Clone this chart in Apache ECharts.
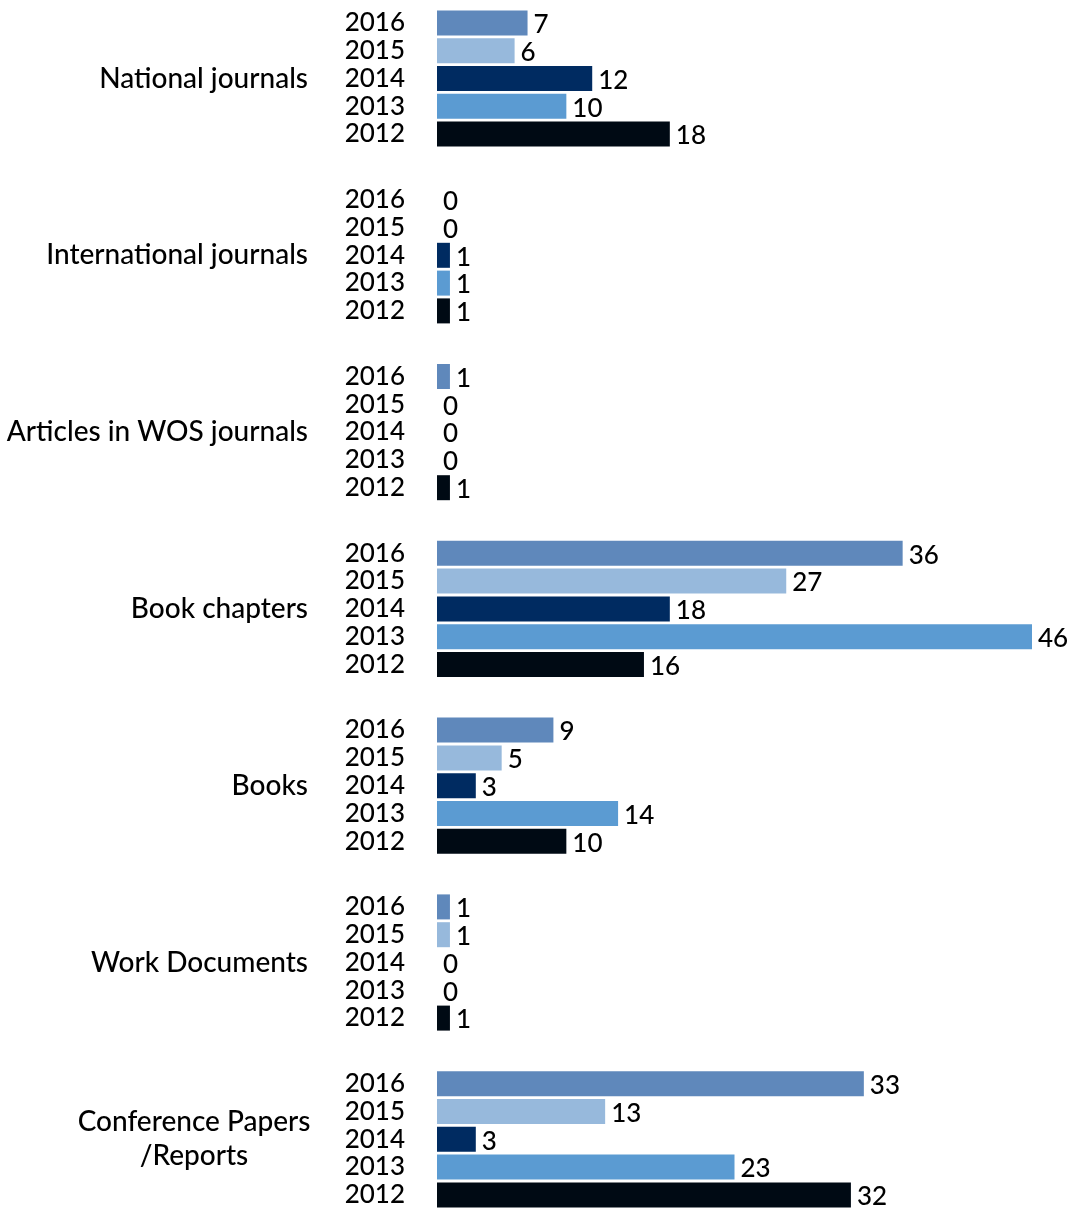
<!DOCTYPE html>
<html><head><meta charset="utf-8">
<script src="https://cdn.jsdelivr.net/npm/echarts@6/dist/echarts.min.js"></script>
<style>html,body{margin:0;padding:0;background:#fff}#c{width:1076px;height:1214px}</style>
</head><body><div id="c"></div>
<script>
const categories = ["National journals","International journals","Articles in WOS journals","Book chapters","Books","Work Documents","Conference Papers\n/Reports"];
const years = ["2016","2015","2014","2013","2012"];
const val2016 = [7,0,1,36,9,1,33];
const val2015 = [6,0,0,27,5,1,13];
const val2014 = [12,1,0,18,3,0,3];
const val2013 = [10,1,0,46,14,0,23];
const val2012 = [18,1,1,16,10,1,32];
const yearColors = ["#5f88bb","#97b9dc","#002b61","#5b9bd2","#000a14"];

const byYear = [val2016, val2015, val2014, val2013, val2012];
const FONT = "Lato";
const grids = [], xAxes = [], yAxes = [], series = [];
categories.forEach((cat, i) => {
  const multi = cat.indexOf("\n") >= 0;
  grids.push({left: 437, right: 44, top: 9 + i * 176.8, height: 139});
  xAxes.push({gridIndex: i, type: "value", min: 0, max: 46, show: false});
  yAxes.push({
    gridIndex: i, type: "category", data: years, inverse: true,
    axisLine: {show: false}, axisTick: {show: false},
    axisLabel: {interval: 0, margin: 32, fontSize: 26, color: "#000", fontFamily: FONT, fontWeight: 500},
    name: cat, nameLocation: "middle", nameRotate: 0,
    nameGap: multi ? 243 : 129,
    nameTextStyle: {fontSize: 28, color: "#000", fontFamily: FONT, fontWeight: 500, align: multi ? "center" : "right", lineHeight: 34}
  });
  series.push({
    type: "bar", xAxisIndex: i, yAxisIndex: i, barWidth: 25,
    data: byYear.map((arr, k) => ({value: arr[i], itemStyle: {color: yearColors[k]}})),
    label: {show: true, position: "right", distance: 6, fontSize: 26, color: "#000", fontFamily: FONT, fontWeight: 500, offset: [0, 2]},
    animation: false
  });
});
const chart = echarts.init(document.getElementById("c"));
chart.setOption({animation: false, grid: grids, xAxis: xAxes, yAxis: yAxes, series: series});
</script></body></html>
